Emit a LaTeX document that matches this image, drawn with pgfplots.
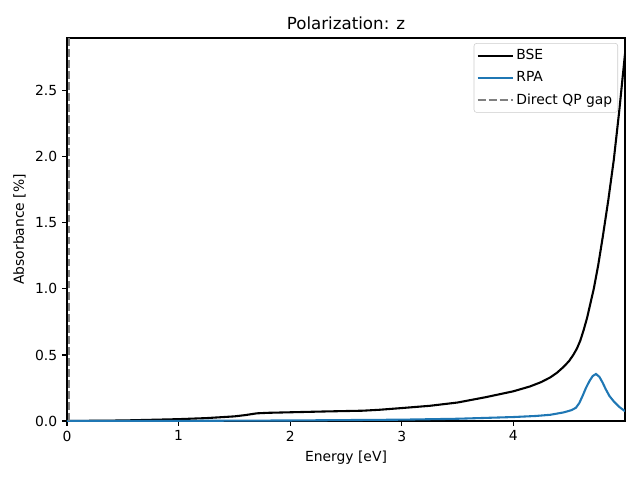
\documentclass[border=0pt]{standalone}
\usepackage{fontspec}
\setmainfont{DejaVu Sans}
\usepackage{pgfplots}
\pgfplotsset{compat=1.18}
\definecolor{mplblue}{HTML}{1F77B4}
\definecolor{mplgray}{HTML}{808080}

\begin{document}
\begin{tikzpicture}
  \useasboundingbox (-48.24pt,-42.48pt) rectangle (412.56pt,303.12pt);
  \begin{axis}[
    at={(0,0)}, anchor=south west,
    scale only axis,
    width=401.76pt, height=275.76pt,
    xmin=0, xmax=5.0,
    ymin=0, ymax=2.9,
    xtick={0,1,2,3,4},
    ytick={0,0.5,1.0,1.5,2.0,2.5},
    tick pos=left,
    tick align=outside,
    major tick length=3.5pt,
    every tick/.style={black, line width=0.8pt},
    axis line style={line width=0.8pt},
    /pgf/number format/assume math mode=true,
    ticklabel style={font=\fontsize{10}{12}\selectfont},
    yticklabel style={/pgf/number format/.cd, fixed, fixed zerofill, precision=1},
    xlabel={Energy [eV]},
    ylabel={Absorbance [\%]},
    label style={font=\fontsize{10}{12}\selectfont},
    title={Polarization: z},
    every axis title shift=0pt,
    title style={font=\fontsize{12}{14}\selectfont, at={(0.5,1)}, anchor=base, yshift=6pt},
    legend cell align=left,
    legend image code/.code={
      \draw[#1] (0pt,0pt) -- (20pt,0pt);
      \path (0pt,0pt) -- (25pt,0pt);
    },
    legend style={
      at={(1,1)}, anchor=north east, xshift=-5pt, yshift=-3.6pt,
      draw=black!20, rounded corners=2pt, fill=white,
      fill opacity=0.8, text opacity=1,
      font=\fontsize{10}{12}\selectfont,
      inner xsep=2pt, inner ysep=2.5pt,
      row sep=3pt,
    },
  ]
    % BSE
    \addplot[black, line width=1.5pt] coordinates {
      (0,0) (0.5,0.004) (1,0.014) (1.25,0.022) (1.5,0.035) (1.6,0.045)
      (1.7,0.058) (1.8,0.062) (2,0.066) (2.3,0.072) (2.65,0.078) (2.8,0.085)
      (3,0.098) (3.25,0.115) (3.5,0.14) (3.75,0.18) (4,0.225) (4.15,0.262)
      (4.25,0.295) (4.33,0.33) (4.39,0.365) (4.45,0.41) (4.5,0.455)
      (4.54,0.505) (4.57,0.55) (4.6,0.61) (4.63,0.69) (4.66,0.78)
      (4.69,0.89) (4.72,1.00) (4.76,1.18) (4.8,1.39) (4.85,1.67)
      (4.9,1.98) (4.95,2.36) (5.0,2.78)
    };
    \addlegendentry{BSE}
    % RPA
    \addplot[mplblue, line width=1.5pt] coordinates {
      (0,0) (1,0.001) (2,0.004) (3,0.01) (3.5,0.017) (4,0.03) (4.2,0.038)
      (4.33,0.047) (4.45,0.065) (4.52,0.082) (4.56,0.10) (4.59,0.135)
      (4.62,0.19) (4.65,0.25) (4.68,0.30) (4.71,0.34) (4.74,0.356)
      (4.77,0.335) (4.8,0.29) (4.825,0.245) (4.86,0.19) (4.9,0.148)
      (4.95,0.106) (5.0,0.074)
    };
    \addlegendentry{RPA}
    % direct QP gap
    \addplot[mplgray, line width=1.5pt, dash pattern=on 5.55pt off 2.4pt] coordinates {
      (0.02,0) (0.02,2.9)
    };
    \addlegendentry{Direct QP gap}
  \end{axis}
\end{tikzpicture}
\end{document}
